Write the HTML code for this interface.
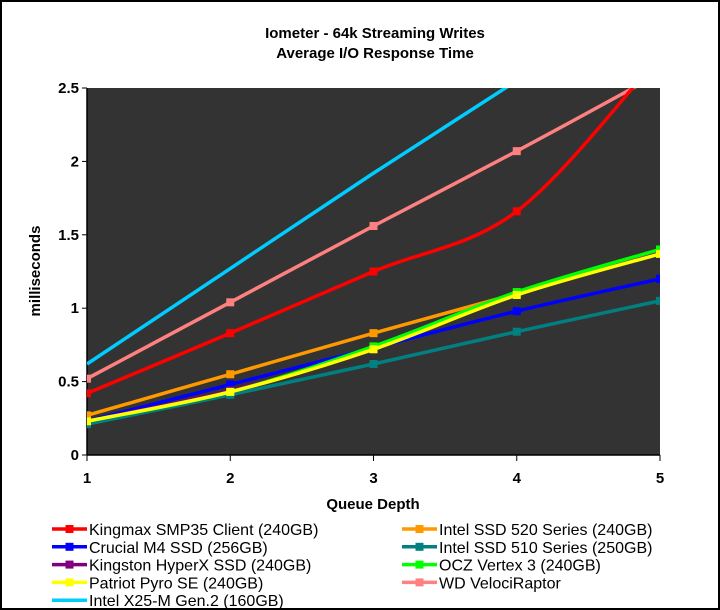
<!DOCTYPE html>
<html><head><meta charset="utf-8"><style>
body{margin:0;background:#fff;}
svg{display:block;font-family:"Liberation Sans",Arial,sans-serif;}
</style></head><body>
<svg id="chart" width="720" height="610">
<rect x="1" y="1" width="718" height="608" fill="#fff" stroke="#000" stroke-width="2"/>
<text x="375" y="38" text-anchor="middle" font-size="15" font-weight="bold">Iometer - 64k Streaming Writes</text>
<text x="375" y="58" text-anchor="middle" font-size="15" font-weight="bold">Average I/O Response Time</text>
<defs><clipPath id="pc"><rect x="87" y="88" width="573" height="367"/></clipPath></defs>
<rect x="87" y="88" width="573" height="367" fill="#333333"/>
<g id="axes"></g>
<g id="series" clip-path="url(#pc)"></g>
<text transform="translate(40,271) rotate(-90)" text-anchor="middle" font-size="15" font-weight="bold">milliseconds</text>
<text x="373" y="509" text-anchor="middle" font-size="15" font-weight="bold">Queue Depth</text>
<g id="legend"></g>
</svg>
<script>
const categories=[1,2,3,4,5];
const yTicks=[0,0.5,1,1.5,2,2.5];
const yTickLabels=["0","0.5","1","1.5","2","2.5"];
const seriesNames=["Kingmax SMP35 Client (240GB)","Crucial M4 SSD (256GB)","Kingston HyperX SSD (240GB)","Patriot Pyro SE (240GB)","Intel X25-M Gen.2 (160GB)","Intel SSD 520 Series (240GB)","Intel SSD 510 Series (250GB)","OCZ Vertex 3 (240GB)","WD VelociRaptor"];
const seriesColors=["#ff0000","#0000ff","#800080","#ffff00","#00ccff","#ff9900","#008080","#00ff00","#ff8080"];
const kingmax=[0.42,0.83,1.25,1.66,2.72];
const crucial=[0.23,0.48,0.73,0.98,1.2];
const kingston=[0.23,0.44,0.72,1.10,1.38];
const patriot=[0.23,0.43,0.72,1.09,1.37];
const x25m=[0.62,1.27,1.92,2.55,3.2];
const intel520=[0.27,0.55,0.83,1.10,1.38];
const intel510=[0.21,0.41,0.62,0.84,1.05];
const ocz=[0.23,0.43,0.74,1.11,1.40];
const wd=[0.52,1.04,1.56,2.07,2.6];
const seriesValues=[kingmax,crucial,kingston,patriot,x25m,intel520,intel510,ocz,wd];
const drawOrder=[4,8,0,5,1,6,2,7,3];
const NS="http://www.w3.org/2000/svg";
const X0=87,X1=660,Y0=455,Y1=88;
function xs(v){return X0+(v-1)/(4)*(X1-X0);}
function ys(v){return Y0-v/2.5*(Y0-Y1);}
function mk(t,a,p){const e=document.createElementNS(NS,t);for(const k in a)e.setAttribute(k,a[k]);p.appendChild(e);return e;}
const axes=document.getElementById('axes');
const ax=mk('line',{x1:X0,y1:Y1,x2:X0,y2:Y0,stroke:'#000','stroke-width':1.5},axes);


const bx=mk('line',{x1:X0,y1:Y0,x2:X1,y2:Y0,stroke:'#000','stroke-width':1.5},axes);


yTicks.forEach((v,i)=>{
 mk('line',{x1:X0-5,y1:ys(v),x2:X0,y2:ys(v),stroke:'#000'},axes);
 const t=mk('text',{x:X0-8,y:ys(v)+5,'text-anchor':'end','font-size':15,'font-weight':'bold'},axes);
 t.textContent=yTickLabels[i];
 
 
});
categories.forEach(c=>{
 mk('line',{x1:xs(c),y1:Y0,x2:xs(c),y2:Y0+6,stroke:'#000'},axes);
 const t=mk('text',{x:xs(c),y:Y0+28,'text-anchor':'middle','font-size':15,'font-weight':'bold'},axes);
 t.textContent=String(c);
 
 
});
function smooth(pts){let d=`M${pts[0][0]},${pts[0][1]}`;for(let i=0;i<pts.length-1;i++){const p0=pts[i-1]||pts[i],p1=pts[i],p2=pts[i+1],p3=pts[i+2]||p2;const c1=[p1[0]+(p2[0]-p0[0])/6,p1[1]+(p2[1]-p0[1])/6],c2=[p2[0]-(p3[0]-p1[0])/6,p2[1]-(p3[1]-p1[1])/6];d+=`C${c1[0]},${c1[1]} ${c2[0]},${c2[1]} ${p2[0]},${p2[1]}`;}return d;}
const sg=document.getElementById('series');
drawOrder.forEach(si=>{
 const g=mk('g',{},sg);
 
 
 const pts=categories.map((c,i)=>[xs(c),ys(seriesValues[si][i])]);
 mk('path',{d:smooth(pts),fill:'none',stroke:seriesColors[si],'stroke-width':3.5},g);
 if(si!==4) pts.forEach(p=>{const r=mk('rect',{x:p[0]-4,y:p[1]-4,width:8,height:8,fill:seriesColors[si]},g);
  
  });
});
const lg=document.getElementById('legend');
seriesNames.forEach((n,i)=>{
 const col=i<5?0:1,row=i<5?i:i-5;
 const lx=col?402:52,ly=529+row*17.8;
 const g=mk('g',{},lg);
 
 
 mk('line',{x1:lx,y1:ly,x2:lx+35,y2:ly,stroke:seriesColors[i],'stroke-width':3.5},g);
 if(i!==4) mk('rect',{x:lx+13.5,y:ly-4,width:8,height:8,fill:seriesColors[i]},g);
 const t=mk('text',{x:lx+37,y:ly+6,'font-size':16,'textLength':0},g);
 t.removeAttribute('textLength');
 t.textContent=n;
});
</script>
</body></html>
